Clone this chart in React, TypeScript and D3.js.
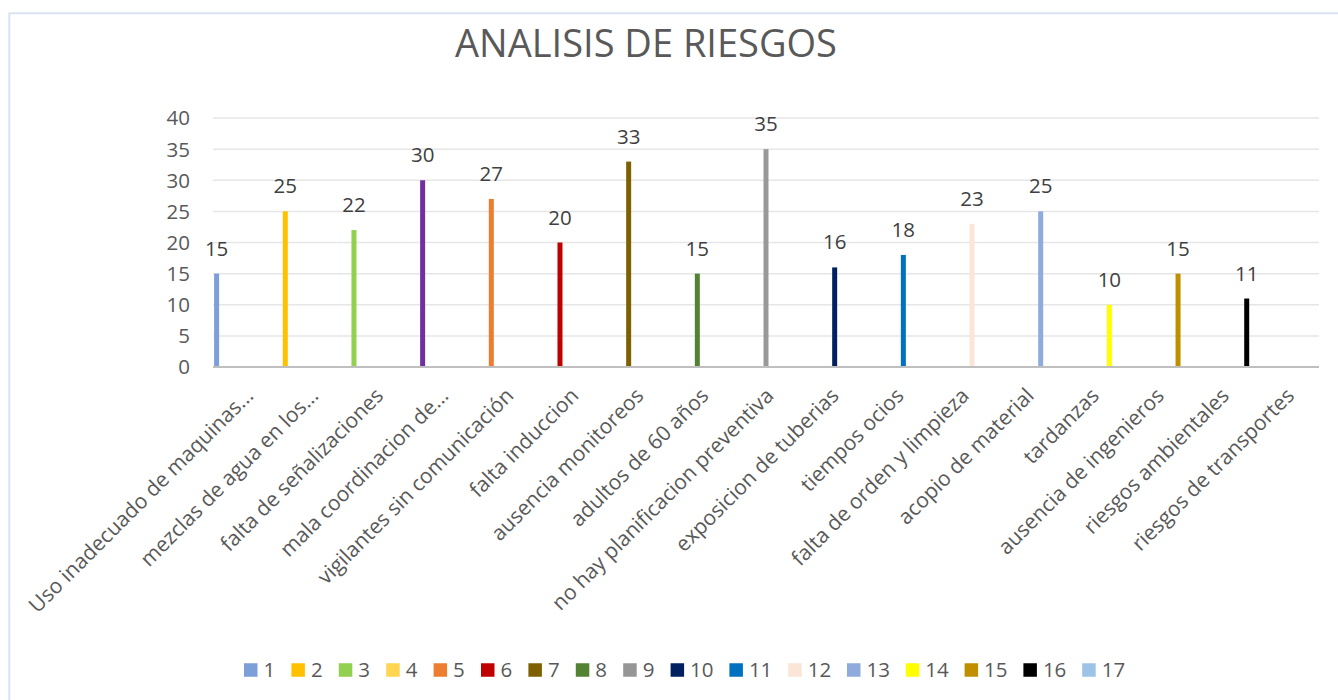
import React, { useMemo } from "react";
import * as d3 from "d3";

// ── Data ──────────────────────────────────────────────────────────────────────
const categories = [
  "Uso inadecuado de maquinas...",
  "mezclas de agua en los...",
  "falta de señalizaciones",
  "mala coordinacion de...",
  "vigilantes sin comunicación",
  "falta induccion",
  "ausencia monitoreos",
  "adultos de 60 años",
  "no hay planificacion preventiva",
  "exposicion de tuberias",
  "tiempos ocios",
  "falta de orden y limpieza",
  "acopio de material",
  "tardanzas",
  "ausencia de ingenieros",
  "riesgos ambientales",
  "riesgos de transportes",
];

// one series per risk, each series only has a value on its own category
const seriesNames = ["1", "2", "3", "4", "5", "6", "7", "8", "9", "10", "11", "12", "13", "14", "15", "16", "17"];
const values: (number | null)[] = [15, 25, 22, 30, 27, 20, 33, 15, 35, 16, 18, 23, 25, 10, 15, 11, null];

const yTicks = [0, 5, 10, 15, 20, 25, 30, 35, 40];

// bar colours (points were recoloured in the source, so they differ from the legend)
const barColors = [
  "#7C9FD9", "#FFC000", "#92D050", "#7030A0", "#ED7D31", "#C00000", "#7F6000", "#548235",
  "#999999", "#002060", "#0070C0", "#FBE5D6", "#8FAADC", "#FFFF00", "#BF8F00", "#000000", "#9DC3E6",
];
const legendColors = [
  "#7C9FD9", "#FFC000", "#92D050", "#FFD551", "#ED7D31", "#C00000", "#7F6000", "#548235",
  "#969696", "#002060", "#0070C0", "#FBE5D6", "#8FAADC", "#FFFF00", "#BF8F00", "#000000", "#9DC3E6",
];

// ── Layout ────────────────────────────────────────────────────────────────────
const W = 1338;
const H = 700;
const PLOT = { left: 213, right: 1319, top: 118, bottom: 367 };
const FONT = "'Open Sans', 'Segoe UI', sans-serif";
const TEXT = "#595959";

export default function App() {
  const x0 = useMemo(
    () => d3.scaleBand<string>().domain(categories).range([PLOT.left, PLOT.right]).padding(0),
    []
  );
  const x1 = useMemo(
    () =>
      d3.scaleBand<string>().domain(seriesNames).range([0, x0.bandwidth()]).paddingInner(0).paddingOuter(0.5),
    [x0]
  );
  const y = useMemo(() => d3.scaleLinear().domain([0, 40]).range([PLOT.bottom, PLOT.top]), []);

  const barW = 5;

  // legend layout: square, gap, text, gap
  const sq = 13.5;
  const digitW = 11.4;
  const itemW = seriesNames.map((s) => sq + 6 + s.length * digitW + 16.5);
  const legendTotal = d3.sum(itemW) - 16.5;
  const legendStart = 244;
  const legendX = itemW.map((_, i) => legendStart + d3.sum(itemW.slice(0, i)));
  const legendY = 670;
  void legendTotal;

  return (
    <svg
      width={W}
      height={H}
      viewBox={`0 0 ${W} ${H}`}
      style={{ position: "fixed", left: 0, top: 0, background: "#fff" }}
      fontFamily={FONT}
    >
      <rect x={0} y={0} width={W} height={H} fill="#fff" />
      {/* chart-area border (only top/left visible) */}
      <rect x={9.3} y={13.3} width={W + 20} height={H + 20} fill="none" stroke="#DAE3F3" strokeWidth={2} />

      {/* title */}
      <text x={646} y={57} textAnchor="middle" fontSize={38} fill={TEXT}>
        ANALISIS DE RIESGOS
      </text>

      {/* gridlines + y labels */}
      {yTicks.map((t) => (
        <g key={t}>
          {t > 0 && (
            <line x1={PLOT.left} x2={PLOT.right} y1={y(t)} y2={y(t)} stroke="#E6E6E6" strokeWidth={1.5} />
          )}
          <text x={190} y={y(t)} dy="0.36em" textAnchor="end" fontSize={20.5} fill={TEXT}>
            {t}
          </text>
        </g>
      ))}

      {/* bars */}
      {categories.map((c, i) => {
        const v = values[i];
        if (v == null) return null;
        const cx = (x0(c) ?? 0) + (x1(seriesNames[i]) ?? 0) + x1.bandwidth() / 2;
        return (
          <g key={c}>
            <rect x={cx - barW / 2} y={y(v)} width={barW} height={y(0) - y(v)} fill={barColors[i]} />
            <text x={cx} y={y(v) - 18} textAnchor="middle" fontSize={20.5} fill="#404040">
              {v}
            </text>
          </g>
        );
      })}

      {/* x axis line */}
      <line x1={PLOT.left} x2={PLOT.right} y1={y(0)} y2={y(0)} stroke="#BFBFBF" strokeWidth={2.2} />

      {/* category labels */}
      {categories.map((c) => {
        const cx = (x0(c) ?? 0) + x0.bandwidth() / 2;
        return (
          <text
            key={c}
            transform={`translate(${cx + 9},${y(0) + 30}) rotate(-45)`}
            textAnchor="end"
            fontSize={21}
            fill={TEXT}
          >
            {c}
          </text>
        );
      })}

      {/* legend */}
      {seriesNames.map((s, i) => (
        <g key={s} transform={`translate(${legendX[i]},${legendY})`}>
          <rect x={0} y={-sq / 2} width={sq} height={sq} fill={legendColors[i]} />
          <text x={sq + 6} y={0} dy="0.36em" fontSize={20.5} fill={TEXT}>
            {s}
          </text>
        </g>
      ))}
    </svg>
  );
}
